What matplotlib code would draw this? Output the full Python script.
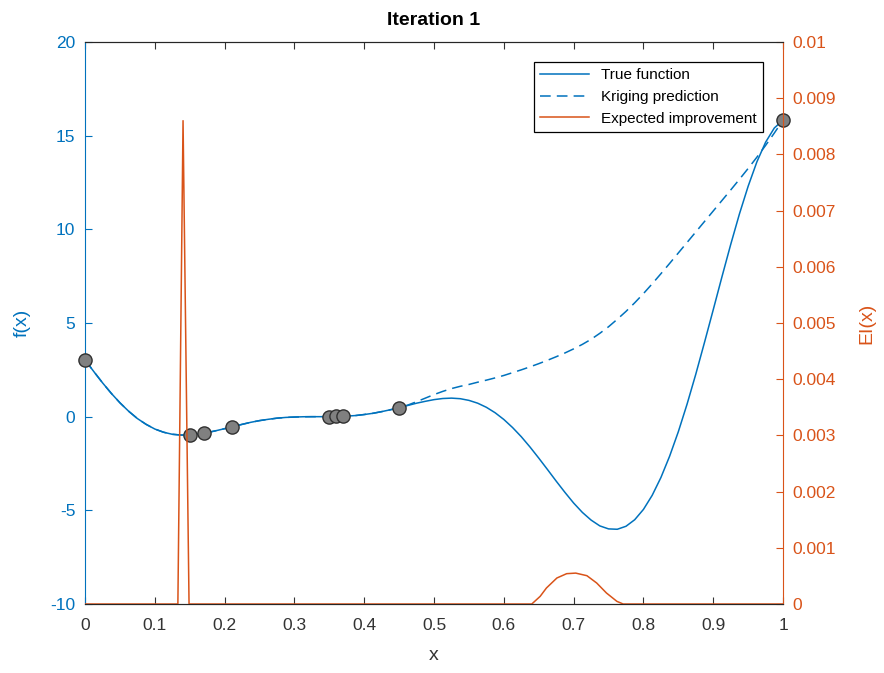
import numpy as np
import matplotlib
matplotlib.use("Agg")
import matplotlib.pyplot as plt

plt.rcParams['font.family'] = ['Liberation Sans', 'DejaVu Sans']
plt.rcParams['axes.unicode_minus'] = False

blue = '#0072BD'
orange = '#D95319'

# x sampled every 0.0125 from 0 to 1
x_grid = np.linspace(0, 1, 81)

f_true = [3.03, 2.41, 1.81, 1.25, 0.74, 0.29, -0.10, -0.41, -0.66, -0.83,
          -0.94, -0.98, -0.98, -0.93, -0.85, -0.75, -0.64, -0.52, -0.41, -0.30,
          -0.21, -0.14, -0.08, -0.04, -0.02, -0.004, 0.0, 0.0, 0.002, 0.01,
          0.03, 0.06, 0.115, 0.18, 0.27, 0.37, 0.48, 0.60, 0.72, 0.82,
          0.91, 0.97, 0.99, 0.96, 0.87, 0.72, 0.50, 0.21, -0.15, -0.58,
          -1.07, -1.62, -2.21, -2.82, -3.44, -4.04, -4.61, -5.11, -5.52, -5.83,
          -5.99, -6.01, -5.85, -5.50, -4.95, -4.20, -3.25, -2.11, -0.80, 0.67,
          2.27, 3.97, 5.71, 7.47, 9.19, 10.82, 12.30, 13.60, 14.65, 15.41,
          15.83]

f_krig = [3.03, 2.41, 1.81, 1.25, 0.74, 0.29, -0.10, -0.41, -0.66, -0.83,
          -0.94, -0.98, -0.98, -0.93, -0.85, -0.75, -0.64, -0.52, -0.41, -0.30,
          -0.21, -0.14, -0.08, -0.04, -0.02, -0.004, 0.0, 0.0, 0.002, 0.01,
          0.03, 0.06, 0.115, 0.18, 0.27, 0.37, 0.48, 0.62, 0.80, 0.99,
          1.18, 1.35, 1.50, 1.62, 1.72, 1.84, 1.95, 2.07, 2.20, 2.35,
          2.50, 2.66, 2.83, 3.01, 3.20, 3.40, 3.62, 3.86, 4.13, 4.45,
          4.80, 5.20, 5.62, 6.08, 6.57, 7.09, 7.63, 8.18, 8.74, 9.30,
          9.86, 10.42, 10.98, 11.54, 12.10, 12.67, 13.25, 13.85, 14.48, 15.14,
          15.83]

x_samples = [0.0, 0.15, 0.17, 0.21, 0.35, 0.36, 0.37, 0.45, 1.0]
f_samples = [3.03, -0.98, -0.89, -0.55, 0.0, 0.01, 0.02, 0.48, 15.83]

x_ei = [0.0, 0.133, 0.1404, 0.149, 0.64, 0.652, 0.661, 0.676, 0.690, 0.703,
        0.719, 0.733, 0.747, 0.762, 0.771, 1.0]
ei = [0.0, 0.0, 0.0086, 0.0, 0.0, 0.000136, 0.000285, 0.000463, 0.00054, 0.00055,
      0.000504, 0.000374, 0.000196, 0.000047, 0.0, 0.0]

fig = plt.figure(figsize=(8.84, 6.73), dpi=100)
ax = fig.add_axes([0.0962, 0.1025, 0.7896, 0.8351])
ax2 = ax.twinx()

l1, = ax.plot(x_grid, f_true, color=blue, lw=1.1, label='True function')
l2, = ax.plot(x_grid, f_krig, color=blue, lw=1.1, ls='--', dashes=(7, 4),
              label='Kriging prediction')
ax.plot(x_samples, f_samples, 'o', ms=9.5, mfc='#808080', mec='#303030',
        mew=1.0, zorder=5, clip_on=False)
l3, = ax2.plot(x_ei, ei, color=orange, lw=1.1, label='Expected improvement')

ax.set_xlim(0, 1)
ax.set_ylim(-10, 20)
ax.set_xticks(np.arange(0, 1.01, 0.1))
ax.set_xticklabels(['0', '0.1', '0.2', '0.3', '0.4', '0.5', '0.6', '0.7', '0.8', '0.9', '1'])
ax.set_yticks([-10, -5, 0, 5, 10, 15, 20])
ax2.set_ylim(0, 0.01)
ax2.set_yticks(np.arange(0, 0.0101, 0.001))
ax2.set_yticklabels(['0', '0.001', '0.002', '0.003', '0.004', '0.005',
                     '0.006', '0.007', '0.008', '0.009', '0.01'])

ax.tick_params(axis='x', direction='in', length=5, top=True, colors='#333333',
               labelsize=12.5, pad=10)
ax.tick_params(axis='y', direction='in', length=5, colors=blue, labelsize=12.5, pad=7)
ax2.tick_params(axis='y', direction='in', length=5, colors=orange, labelsize=12.5, pad=7)

for a in (ax, ax2):
    a.spines['top'].set_color('#262626')
    a.spines['bottom'].set_color('#262626')
ax.spines['left'].set_color(blue)
ax2.spines['left'].set_visible(False)
ax.spines['right'].set_visible(False)
ax2.spines['right'].set_color(orange)

ax.set_xlabel('x', fontsize=14, color='#333333', labelpad=10)
ax.set_ylabel('f(x)', fontsize=14, color=blue, labelpad=14)
ax2.set_ylabel('EI(x)', fontsize=14, color=orange, labelpad=16)
ax.set_title('Iteration 1', fontsize=14, fontweight='bold', pad=12)

leg = ax2.legend(handles=[l1, l2, l3], loc='upper right',
                 bbox_to_anchor=(0.971, 0.964), borderaxespad=0,
                 fancybox=False, edgecolor='black', fontsize=11,
                 handlelength=3.2, framealpha=1)
leg.get_frame().set_linewidth(0.9)

fig.savefig('out.png', dpi=100)
